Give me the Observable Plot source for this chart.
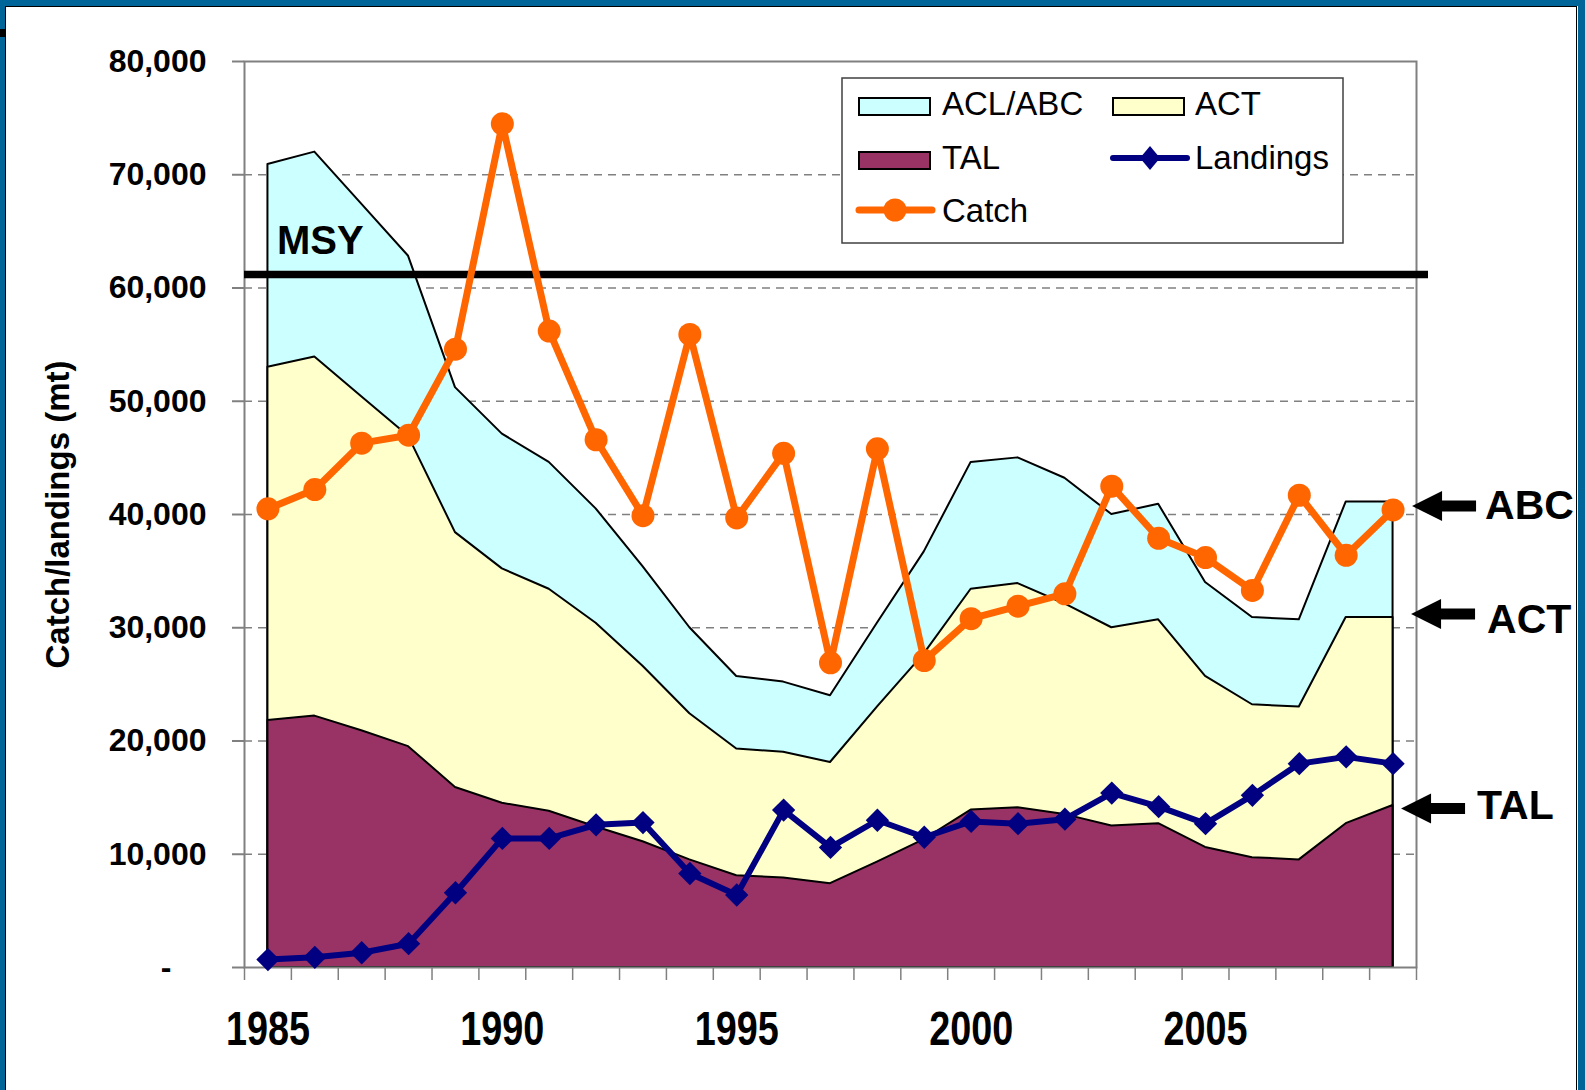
<!DOCTYPE html>
<html><head><meta charset="utf-8">
<script src="https://cdn.jsdelivr.net/npm/d3@7"></script>
<script src="https://cdn.jsdelivr.net/npm/@observablehq/plot@0.6"></script>
<style>
html,body{margin:0;padding:0;background:#fff;overflow:hidden;}
#wrap{position:relative;width:1585px;height:1090px;background:#fff;overflow:hidden;}
#wrap svg{position:absolute;left:0;top:0;}
.deco{position:absolute;}
</style></head><body><div id="wrap"></div>
<script>
// ---------------- data (metric tons) ----------------
const years     = [1985,1986,1987,1988,1989,1990,1991,1992,1993,1994,1995,1996,1997,1998,1999,2000,2001,2002,2003,2004,2005,2006,2007,2008,2009];
const aclAbc    = [70900,72000,67400,62800,51200,47100,44600,40500,35400,30000,25700,25200,24000,30400,36700,44600,45000,43200,40000,40900,34000,30900,30700,41100,41100];
const act       = [53000,53900,50400,46900,38400,35200,33400,30400,26600,22400,19300,19000,18100,23000,27700,33400,33900,32100,30000,30700,25700,23200,23000,30900,30900];
const tal       = [21800,22200,20900,19500,15900,14500,13800,12400,11100,9500,8100,7900,7400,9300,11300,13900,14100,13500,12500,12700,10600,9700,9500,12700,14300];
const landings  = [700,900,1300,2100,6600,11400,11400,12600,12800,8300,6400,13900,10600,13000,11500,12900,12700,13100,15400,14200,12700,15200,18000,18600,18000];
const catchMt   = [40500,42200,46300,47000,54600,74500,56200,46600,39900,55900,39700,45400,26900,45800,27100,30800,31900,33000,42500,37900,36200,33300,41700,36400,40400];
const msy       = 61200;
const msyLabel  = "MSY";
const yTicks    = [10000,20000,30000,40000,50000,60000,70000,80000];
const gridTicks = [10000,20000,30000,40000,50000,60000,70000];
const xLabels   = [1985,1990,1995,2000,2005];
const yTitle    = "Catch/landings (mt)";
const annLabels = ["ABC","ACT","TAL"];
const annValues = [aclAbc[aclAbc.length-1], act[act.length-1], tal[tal.length-1]];
const legendNames = ["ACL/ABC","ACT","TAL","Landings","Catch"];

// ---------------- styles ----------------
const C = {acl:"#CCFFFF", act:"#FFFFCC", tal:"#993366", land:"#000080", catch:"#FF6600", grid:"#808080", blue:"#006699"};
const FONT = "'Liberation Sans', Arial, Helvetica, sans-serif";
const arrowDx = [19, 18, 8], arrowDy = [4, -3.5, 3];
const labelDx = [92, 94, 84], labelDy = [17, 15.5, 13.5];

const data = years.map((year,i)=>({year, acl:aclAbc[i], act:act[i], tal:tal[i], landings:landings[i], catch:catchMt[i]}));
const lastYear = years[years.length-1];
const xBounds = years.map(y=>y-0.5).concat([lastYear+0.5]);

const blockArrow = {
  draw(ctx, l) {
    const h = 30, hw = 15, sw = 5.5;
    ctx.moveTo(-sw, 0);
    ctx.lineTo(-sw, -l + h);
    ctx.lineTo(-hw, -l + h);
    ctx.lineTo(0, -l);
    ctx.lineTo(hw, -l + h);
    ctx.lineTo(sw, -l + h);
    ctx.lineTo(sw, 0);
    ctx.closePath();
  }
};

const annMarks = [];
annLabels.forEach((lab,k)=>{
  annMarks.push(Plot.vector([annValues[k]], {x: ()=>lastYear, y: d=>d, length: 64, rotate: -90, anchor: "end",
    shape: blockArrow, fill: "#000", stroke: "none", dx: arrowDx[k], dy: arrowDy[k]}));
  annMarks.push(Plot.text([annValues[k]], {x: ()=>lastYear, y: d=>d, text: ()=>lab, textAnchor: "start", lineAnchor: "bottom",
    dx: labelDx[k], dy: labelDy[k], fontSize: 41, fontWeight: "bold", fill: "#000"}));
});

const chart = Plot.plot({
  width: 1585, height: 1090,
  marginLeft: 244, marginRight: 169, marginTop: 61, marginBottom: 123,
  style: {fontFamily: FONT, background: "transparent", overflow: "visible", color: "#000"},
  x: {type: "linear", domain: [years[0]-0.5, lastYear+0.5]},
  y: {domain: [0, 80000]},
  marks: [
    Plot.gridY(gridTicks, {stroke: C.grid, strokeOpacity: 1, strokeWidth: 1.5, strokeDasharray: "8,6"}),
    Plot.areaY(data, {x: "year", y1: 0, y2: "acl", fill: C.acl, stroke: "#000", strokeWidth: 2}),
    Plot.areaY(data, {x: "year", y1: 0, y2: "act", fill: C.act, stroke: "#000", strokeWidth: 2}),
    Plot.areaY(data, {x: "year", y1: 0, y2: "tal", fill: C.tal, stroke: "#000", strokeWidth: 2}),
    Plot.frame({stroke: C.grid, strokeWidth: 2}),
    Plot.axisY([0, ...yTicks], {tickSize: 12, tickPadding: 26, tickFormat: d => d === 0 ? "" : d3.format(",")(d),
      fontSize: 32, fontWeight: "bold", stroke: C.grid, strokeWidth: 2, fill: "#000", label: null}),
    Plot.axisY([0], {tickSize: 0, tickPadding: 73, tickFormat: () => "-", fontSize: 32, fontWeight: "bold", fill: "#000", label: null}),
    Plot.axisX(xBounds, {tickSize: 13, tickFormat: () => "", stroke: C.grid, strokeWidth: 1.5, label: null}),
    Plot.axisX(xLabels, {tickSize: 0, tickPadding: 43, tickFormat: d => String(d), fontSize: 48, fontWeight: "bold", fill: "#000", label: null}),
    Plot.text([yTitle], {frameAnchor: "left", textAnchor: "middle", lineAnchor: "middle", text: d => d, rotate: -90, dx: -186, fontSize: 33, fontWeight: "bold", fill: "#000"}),
    Plot.ruleY([msy], {stroke: "#000", strokeWidth: 7.5, insetRight: -12}),
    Plot.text([msy], {x: () => years[0], y: d => d, text: () => msyLabel, textAnchor: "start", lineAnchor: "bottom",
      dx: 9, dy: -20, fontSize: 40, fontWeight: "bold", fill: "#000"}),
    Plot.line(data, {x: "year", y: "landings", stroke: C.land, strokeWidth: 6, strokeLinejoin: "round"}),
    Plot.dot(data, {x: "year", y: "landings", symbol: "diamond2", r: 10.5, fill: C.land, stroke: "none"}),
    Plot.line(data, {x: "year", y: "catch", stroke: C.catch, strokeWidth: 7, strokeLinejoin: "round"}),
    Plot.dot(data, {x: "year", y: "catch", r: 11.5, fill: C.catch, stroke: "none"}),
    ...annMarks
  ]
});

const wrap = document.getElementById("wrap");
wrap.appendChild(chart);

// condensed x labels
chart.querySelectorAll("text").forEach(t => {
  const s = t.textContent;
  if (xLabels.map(String).includes(s)) { t.setAttribute("textLength", 84); t.setAttribute("lengthAdjust", "spacingAndGlyphs"); }
});

// ---------------- legend (overlay) ----------------
const NS = "http://www.w3.org/2000/svg";
const lg = document.createElementNS(NS, "svg");
lg.setAttribute("width", 1585); lg.setAttribute("height", 1090);
lg.style.fontFamily = FONT;
function el(name, attrs, text) {
  const e = document.createElementNS(NS, name);
  for (const k in attrs) e.setAttribute(k, attrs[k]);
  if (text != null) e.textContent = text;
  lg.appendChild(e); return e;
}
el("rect", {x: 842, y: 78, width: 501, height: 165, fill: "#fff", stroke: "#404040", "stroke-width": 1.5});
const sw = (x, y, fill) => el("rect", {x, y, width: 71, height: 17, fill, stroke: "#000", "stroke-width": 2});
const tx = (x, y, s) => el("text", {x, y, "font-size": 33, fill: "#000"}, s);
sw(859, 98, C.acl);  tx(942, 115, legendNames[0]);
sw(1113, 98, C.act); tx(1195, 115, legendNames[1]);
sw(859, 152, C.tal); tx(942, 169, legendNames[2]);
el("line", {x1: 1113, x2: 1187, y1: 158, y2: 158, stroke: C.land, "stroke-width": 6, "stroke-linecap": "round"});
el("path", {d: "M1150,146L1160,158L1150,170L1140,158Z", fill: C.land});
tx(1195, 169, legendNames[3]);
el("line", {x1: 859, x2: 932, y1: 210, y2: 210, stroke: C.catch, "stroke-width": 7, "stroke-linecap": "round"});
el("circle", {cx: 895, cy: 210, r: 11.5, fill: C.catch});
tx(942, 222, legendNames[4]);
wrap.appendChild(lg);

// ---------------- slide frame ----------------
function deco(css) { const d = document.createElement("div"); d.className = "deco"; Object.assign(d.style, css); wrap.appendChild(d); }
deco({left: "0px", top: "0px", width: "1585px", height: "6px", background: C.blue});
deco({left: "0px", top: "0px", width: "5px", height: "1090px", background: C.blue});
deco({left: "1578px", top: "0px", width: "7px", height: "1090px", background: C.blue});
deco({left: "5px", top: "6px", width: "1572px", height: "1090px", border: "1px solid #000", boxSizing: "border-box", borderBottom: "none"});
deco({left: "0px", top: "29px", width: "6px", height: "8px", background: "#000"});
</script></body></html>
